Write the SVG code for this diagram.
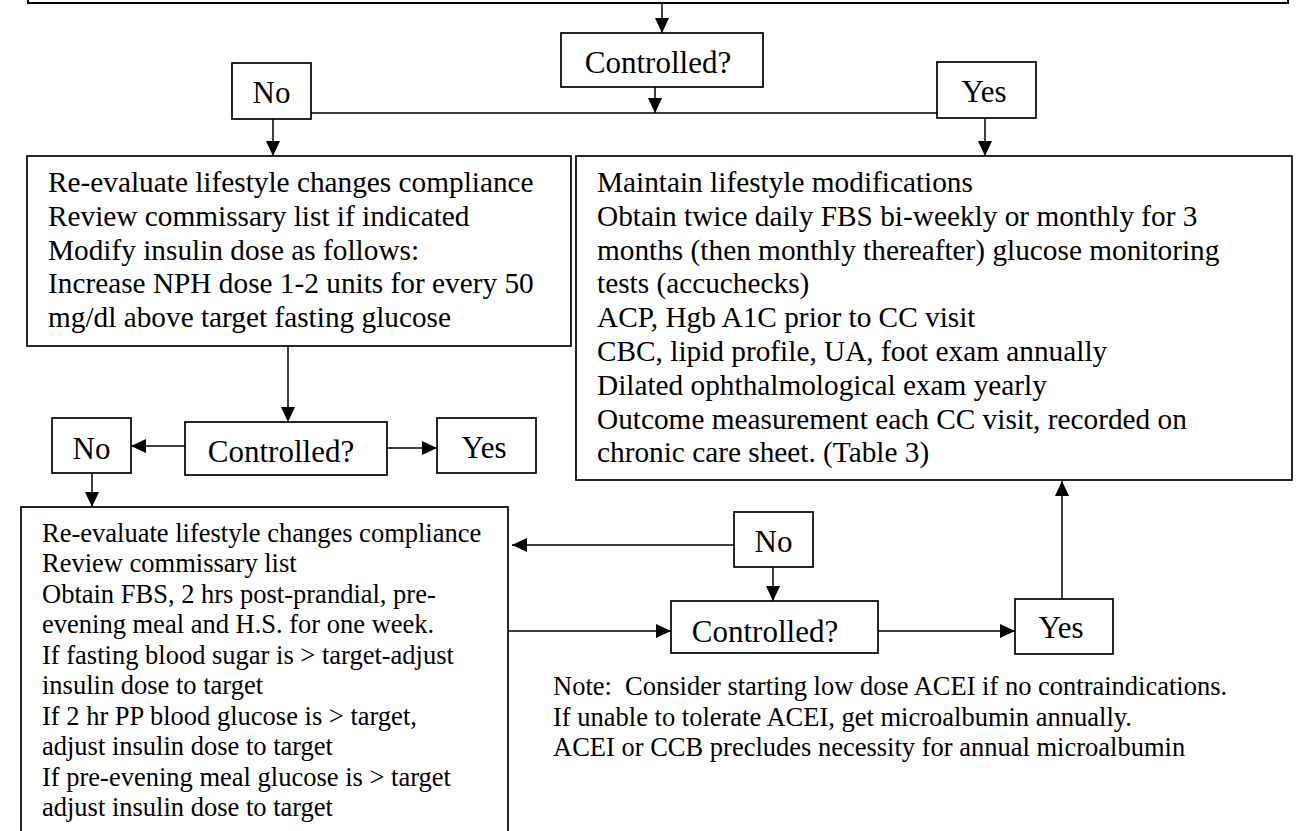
<svg xmlns="http://www.w3.org/2000/svg" width="1304" height="831" viewBox="0 0 1304 831">
<style>
.box{fill:#fff;stroke:#000;stroke-width:1.7}
.ln{fill:none;stroke:#000;stroke-width:1.5}
.arr{fill:none;stroke:#000;stroke-width:1.5;marker-end:url(#ah)}
.t{font-family:"Liberation Serif","Times New Roman",serif;font-size:29.3px;fill:#000}
.s{font-family:"Liberation Serif","Times New Roman",serif;font-size:26.5px;fill:#000;white-space:pre}
.lab{font-family:"Liberation Serif","Times New Roman",serif;font-size:31px;fill:#000;text-anchor:middle}
</style>
<defs>
<marker id="ah" markerUnits="userSpaceOnUse" markerWidth="15" markerHeight="14" refX="15" refY="7" orient="auto">
<path d="M0,0 L15,7 L0,14 z" fill="#000"/>
</marker>
</defs>
<rect width="1304" height="831" fill="#fff"/>

<g id="connectors">
<line class="arr" x1="662" y1="3" x2="662" y2="33"/>
<line class="arr" x1="655" y1="87" x2="655" y2="113"/>
<line class="ln" x1="311" y1="113" x2="937" y2="113"/>
<line class="arr" x1="273" y1="119" x2="273" y2="156"/>
<line class="arr" x1="985" y1="118" x2="985" y2="156"/>
<line class="arr" x1="288" y1="346" x2="288" y2="422"/>
<line class="arr" x1="185" y1="446" x2="131" y2="446"/>
<line class="arr" x1="387" y1="448" x2="437" y2="448"/>
<line class="arr" x1="92" y1="473" x2="92" y2="507"/>
<line class="arr" x1="734" y1="545" x2="512" y2="545"/>
<line class="arr" x1="773" y1="567" x2="773" y2="601"/>
<line class="arr" x1="508" y1="631" x2="671" y2="631"/>
<line class="arr" x1="878" y1="631" x2="1015" y2="631"/>
<line class="arr" x1="1062" y1="599" x2="1062" y2="481"/>
</g>

<g id="top-box">
<rect class="box" x="28" y="-50" width="1260" height="53" style="stroke-width:2"/>
</g>

<g id="controlled1">
<rect class="box" x="561" y="33" width="202" height="54"/>
<text class="lab" x="658" y="73">Controlled?</text>
</g>

<g id="no1">
<rect class="box" x="232" y="63" width="79" height="56"/>
<text class="lab" x="271.5" y="103">No</text>
</g>

<g id="yes1">
<rect class="box" x="937" y="62" width="99" height="56"/>
<text class="lab" x="984" y="102">Yes</text>
</g>

<g id="box1">
<rect class="box" x="27" y="156" width="544" height="190"/>
<text class="t" x="48" y="192">Re-evaluate lifestyle changes compliance</text>
<text class="t" x="48" y="225.8">Review commissary list if indicated</text>
<text class="t" x="48" y="259.6">Modify insulin dose as follows:</text>
<text class="t" x="48" y="293.4">Increase NPH dose 1-2 units for every 50</text>
<text class="t" x="48" y="327.2">mg/dl above target fasting glucose</text>
</g>

<g id="box2">
<rect class="box" x="576" y="156" width="716" height="324"/>
<text class="t" x="597" y="192">Maintain lifestyle modifications</text>
<text class="t" x="597" y="225.8">Obtain twice daily FBS bi-weekly or monthly for 3</text>
<text class="t" x="597" y="259.6">months (then monthly thereafter) glucose monitoring</text>
<text class="t" x="597" y="293.4">tests (accuchecks)</text>
<text class="t" x="597" y="327.2">ACP, Hgb A1C prior to CC visit</text>
<text class="t" x="597" y="361">CBC, lipid profile, UA, foot exam annually</text>
<text class="t" x="597" y="394.8">Dilated ophthalmological exam yearly</text>
<text class="t" x="597" y="428.6">Outcome measurement each CC visit, recorded on</text>
<text class="t" x="597" y="462.4">chronic care sheet. (Table 3)</text>
</g>

<g id="no2">
<rect class="box" x="52" y="418" width="79" height="55"/>
<text class="lab" x="91.5" y="459">No</text>
</g>

<g id="controlled2">
<rect class="box" x="185" y="422" width="202" height="53"/>
<text class="lab" x="281" y="462">Controlled?</text>
</g>

<g id="yes2">
<rect class="box" x="437" y="418" width="99" height="55"/>
<text class="lab" x="484" y="458">Yes</text>
</g>

<g id="box3">
<rect class="box" x="21" y="507" width="487" height="340"/>
<text class="s" x="42" y="541.7">Re-evaluate lifestyle changes compliance</text>
<text class="s" x="42" y="572.2">Review commissary list</text>
<text class="s" x="42" y="602.7">Obtain FBS, 2 hrs post-prandial, pre-</text>
<text class="s" x="42" y="633.2">evening meal and H.S. for one week.</text>
<text class="s" x="42" y="663.7">If fasting blood sugar is &gt; target-adjust</text>
<text class="s" x="42" y="694.2">insulin dose to target</text>
<text class="s" x="42" y="724.7">If 2 hr PP blood glucose is &gt; target,</text>
<text class="s" x="42" y="755.2">adjust insulin dose to target</text>
<text class="s" x="42" y="785.7">If pre-evening meal glucose is &gt; target</text>
<text class="s" x="42" y="816.2">adjust insulin dose to target</text>
</g>

<g id="no3">
<rect class="box" x="734" y="512" width="79" height="55"/>
<text class="lab" x="773.5" y="552">No</text>
</g>

<g id="controlled3">
<rect class="box" x="671" y="601" width="207" height="52"/>
<text class="lab" x="765" y="642">Controlled?</text>
</g>

<g id="yes3">
<rect class="box" x="1015" y="599" width="98" height="55"/>
<text class="lab" x="1061" y="638">Yes</text>
</g>

<g id="note">
<text class="s" x="553" y="695" xml:space="preserve">Note:  Consider starting low dose ACEI if no contraindications.</text>
<text class="s" x="553" y="725.5">If unable to tolerate ACEI, get microalbumin annually.</text>
<text class="s" x="553" y="756">ACEI or CCB precludes necessity for annual microalbumin</text>
</g>
</svg>
